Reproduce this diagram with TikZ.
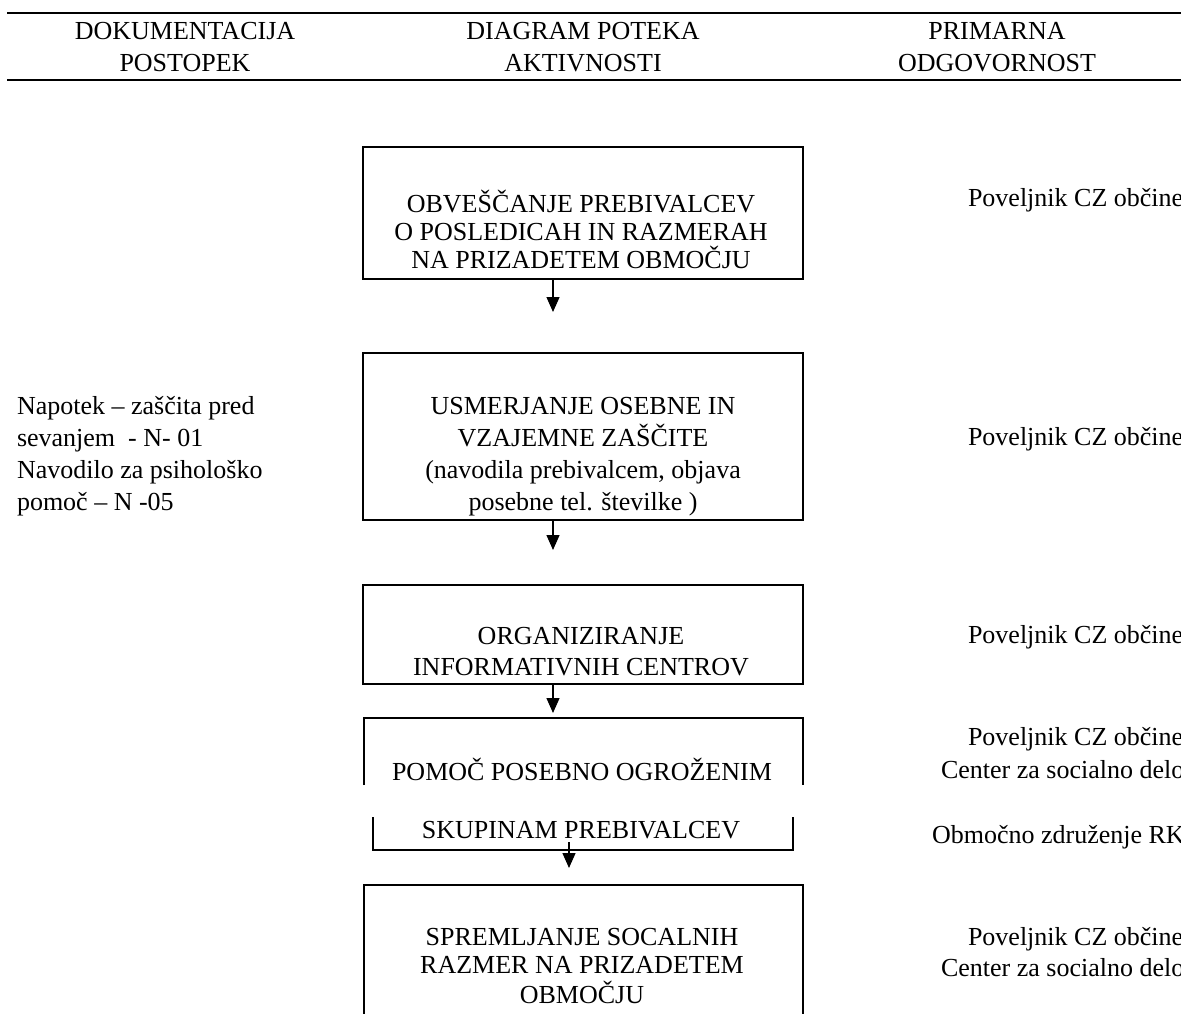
\documentclass[tikz,border=0pt]{standalone}
\usepackage{fontspec}
\setmainfont{Liberation Serif}
\usetikzlibrary{arrows.meta}
\begin{document}
\begin{tikzpicture}[x=1pt,y=-1pt,
  txt/.style={font=\fontsize{26}{30}\selectfont, inner sep=0pt, outer sep=0pt, anchor=base},
  ltxt/.style={txt, anchor=base west},
  boxst/.style={draw, line width=2pt, inner sep=0pt, outer sep=0pt, anchor=north west, minimum width=440pt},
  boxline/.style={line width=2pt},
  arr/.style={line width=1.3pt, -{Triangle[width=13pt,length=15pt]}}]
\useasboundingbox (0,0) rectangle (1181,1014);
\clip (0,0) rectangle (1181,1014);
% header
\draw[line width=1.2pt] (7,13) -- (1181,13);
\draw[line width=2.8pt] (7,80) -- (1181,80);
\node[txt] (h1a) at (185,40) {DOKUMENTACIJA};
\node[txt] (h1b) at (185,72) {POSTOPEK};
\node[txt] (h2a) at (583,40) {DIAGRAM POTEKA};
\node[txt] (h2b) at (583,72) {AKTIVNOSTI};
\node[txt] (h3a) at (997,40) {PRIMARNA};
\node[txt] (h3b) at (997,72) {ODGOVORNOST};
% box 1
\node[boxst, minimum height=132pt] (b1) at (363,147) {};
\node[txt] (t1a) at (581,212) {OBVEŠČANJE PREBIVALCEV};
\node[txt] (t1b) at (581,240) {O POSLEDICAH IN RAZMERAH};
\node[txt] (t1c) at (581,268) {NA PRIZADETEM OBMOČJU};
\coordinate (e1) at (553,312);
\draw[arr] (b1.south -| e1) -- (e1);
% box 2
\node[boxst, minimum height=167pt] (b2) at (363,353) {};
\node[txt] (t2a) at (583,414) {USMERJANJE OSEBNE IN};
\node[txt] (t2b) at (583,446) {VZAJEMNE ZAŠČITE};
\node[txt] (t2c) at (583,478) {(navodila prebivalcem, objava};
\node[txt] (t2d) at (583,510) {posebne tel. številke )};
\coordinate (e2) at (553,550);
\draw[arr] (b2.south -| e2) -- (e2);
% box 3
\node[boxst, minimum height=99pt] (b3) at (363,585) {};
\node[txt] (t3a) at (581,644) {ORGANIZIRANJE};
\node[txt] (t3b) at (581,675) {INFORMATIVNIH CENTROV};
\coordinate (e3) at (553,713);
\draw[arr] (b3.south -| e3) -- (e3);
% box 4 (split)
\draw[boxline] (364,785) |- (803,718) -- (803,785);
\draw[boxline] (373,817) |- (793,850) -- (793,817);
\node[txt] (t4a) at (582,780) {POMOČ POSEBNO OGROŽENIM};
\node[txt] (t4b) at (581,838) {SKUPINAM PREBIVALCEV};
\coordinate (s4) at (569,842);
\coordinate (e4) at (569,868);
\draw[arr] (s4) -- (e4);
% box 5 (open at bottom)
\draw[boxline] (364,1030) |- (803,885) -- (803,1030);
\node[txt] (t5a) at (582,945) {SPREMLJANJE SOCALNIH};
\node[txt] (t5b) at (582,973) {RAZMER NA PRIZADETEM};
\node[txt] (t5c) at (582,1003) {OBMOČJU};
% left column
\node[ltxt] (l1) at (17,414) {Napotek – zaščita pred};
\node[ltxt] (l2) at (17,446) {sevanjem\ \ - N- 01};
\node[ltxt] (l3) at (17,478) {Navodilo za psihološko};
\node[ltxt] (l4) at (17,510) {pomoč – N -05};
% right column
\node[ltxt] (r1) at (968,207) {Poveljnik CZ občine};
\node[ltxt] (r2) at (968,445) {Poveljnik CZ občine};
\node[ltxt] (r3) at (968,643) {Poveljnik CZ občine};
\node[ltxt] (r4) at (968,745) {Poveljnik CZ občine};
\node[ltxt] (r5) at (941,778) {Center za socialno delo};
\node[ltxt] (r6) at (932,843) {Območno združenje RK};
\node[ltxt] (r7) at (968,945) {Poveljnik CZ občine};
\node[ltxt] (r8) at (941,976) {Center za socialno delo};
\end{tikzpicture}
\end{document}
